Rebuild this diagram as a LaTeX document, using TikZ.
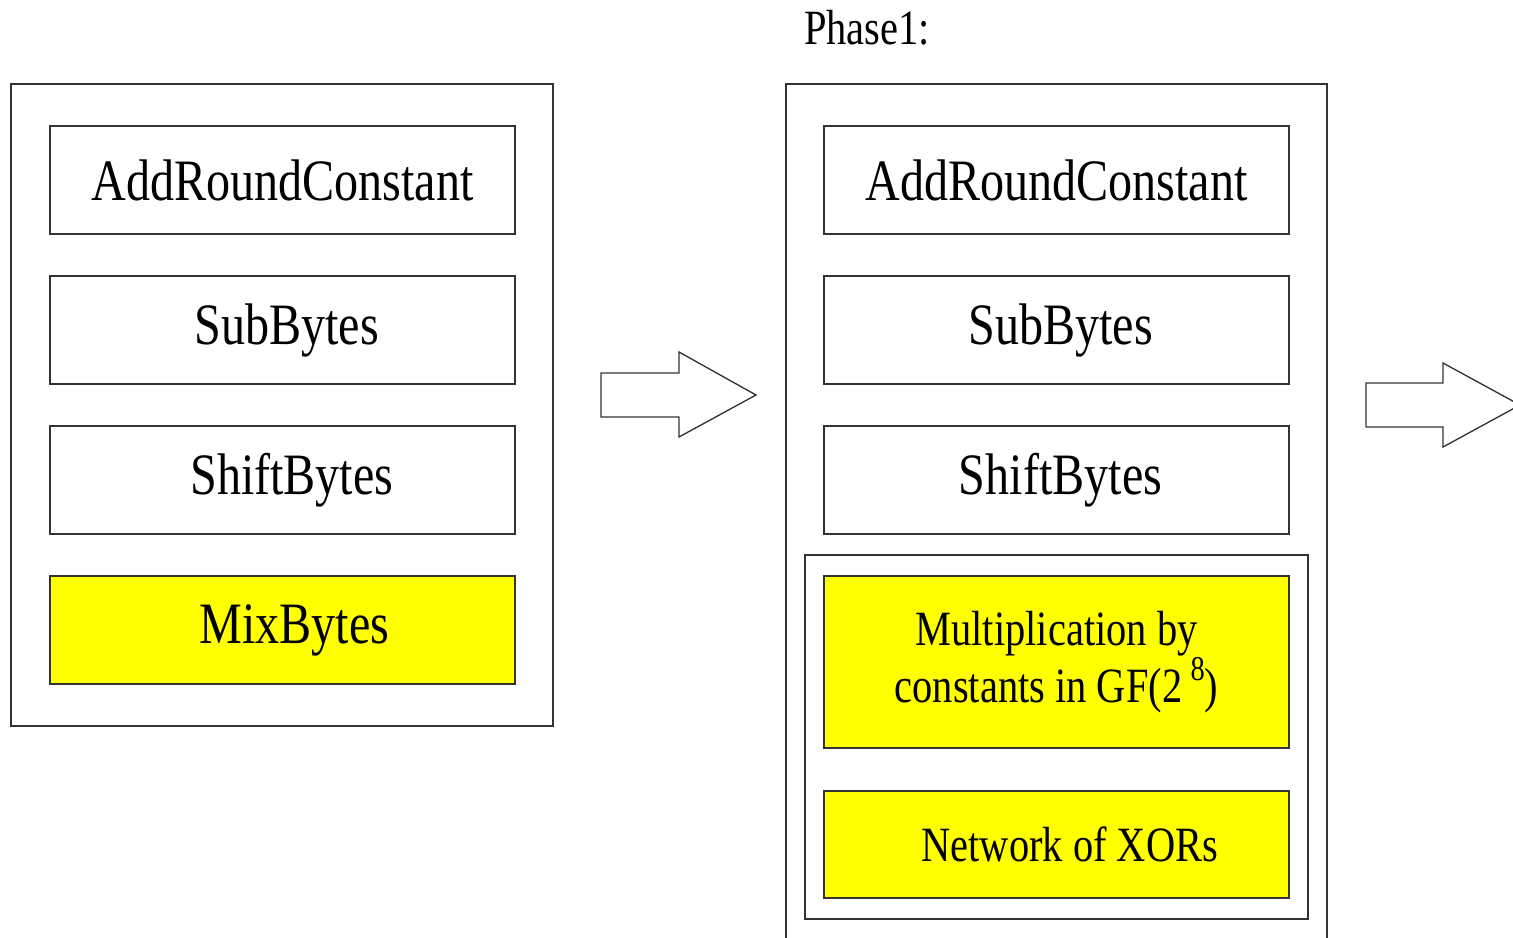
\documentclass[tikz,border=0pt]{standalone}
\usepackage{fontspec}
\setmainfont[FakeStretch=0.82]{Liberation Serif}

\tikzset{every picture/.style={line width=1pt}}
\tikzset{
	stage/.style={draw=black!80, minimum width=348.75pt, minimum height=81pt, inner sep=0pt, font=\fontsize{44}{50}\selectfont},
	mixstage/.style={stage, fill={rgb, 255:red, 255; green, 255; blue, 0}},
	substage/.style={draw=black!80, fill={rgb, 255:red, 255; green, 255; blue, 0}, minimum width=348.75pt, inner sep=0pt, align=center, font=\fontsize{37}{39}\selectfont},
	blockarrow/.style={draw=black!80, fill=white}
}

\begin{document}
\begin{tikzpicture}[x=0.75pt,y=0.75pt,yscale=-1,xscale=1]
	\useasboundingbox (0,0) rectangle (1513,938);
	\clip (0,0) rectangle (1513,938);

	%Shape: Rectangle (round, left)
	\draw [draw=black!80] (11,84) rectangle (553,726);
	\node [stage] (arcA) at (282.5,180) {AddRoundConstant};
	\node [stage] (sbA) at (282.5,330) {\hspace*{6pt}SubBytes};
	\node [stage] (shA) at (282.5,480) {\hspace*{14pt}ShiftBytes};
	\node [mixstage] (mbA) at (282.5,630) {\hspace*{18pt}MixBytes};

	%Shape: Right Arrow
	\draw [blockarrow] (601,373) -- (679,373) -- (679,352) -- (756,395) -- (679,437) -- (679,417) -- (601,417) -- cycle ;

	% Text Node
	\node [font=\fontsize{37}{40}\selectfont] (phase) at (867,28) {Phase1:};

	%Shape: Rectangle (round, phase 1)
	\draw [draw=black!80] (786,950) -- (786,84) -- (1327,84) -- (1327,950) ;
	\node [stage] (arcB) at (1056.5,180) {AddRoundConstant};
	\node [stage] (sbB) at (1056.5,330) {\hspace*{6pt}SubBytes};
	\node [stage] (shB) at (1056.5,480) {\hspace*{6pt}ShiftBytes};

	%Shape: Rectangle (split MixBytes)
	\draw [draw=black!80] (805,555) rectangle (1308,919);
	\node [substage, minimum height=129pt] (mul) at (1056.5,662) {Multiplication by\\constants in GF(2\,\raisebox{17pt}{\fontsize{26}{26}\selectfont 8})};
	\node [substage, minimum height=80.25pt] (xors) at (1056.5,844.5) {\hspace*{20pt}Network of XORs};

	%Shape: Right Arrow
	\draw [blockarrow] (1366,383) -- (1443,383) -- (1443,363) -- (1520,405) -- (1443,447) -- (1443,427) -- (1366,427) -- cycle ;

\end{tikzpicture}
\end{document}
